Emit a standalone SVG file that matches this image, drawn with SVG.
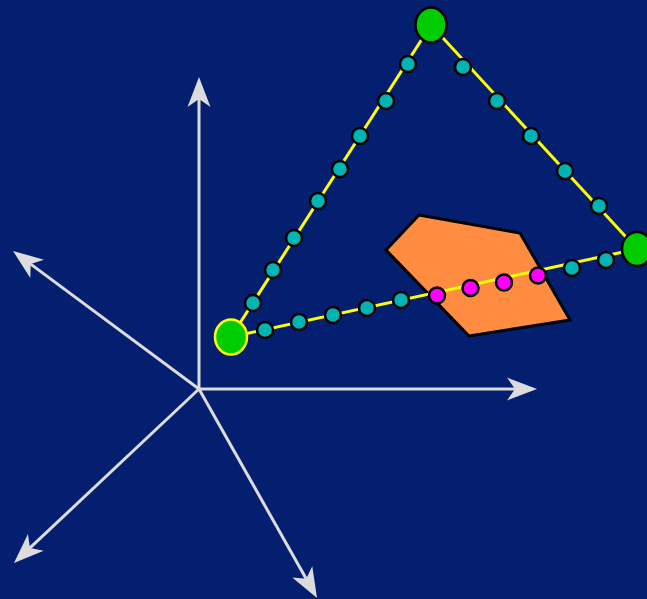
<svg xmlns="http://www.w3.org/2000/svg" width="647" height="599" viewBox="0 0 647 599">
<style>
.axis{stroke:#dcdcdc;stroke-width:3;fill:none;marker-end:url(#ah)}
.edge{stroke:#ffff00;stroke-width:3;fill:none}
.dot{fill:#00b4b4;stroke:#000;stroke-width:2.5}
.mag{fill:#ff00ff;stroke:#000;stroke-width:2.5}
.vtx{fill:#00cc00;stroke:#000;stroke-width:2.5}
</style>
<defs>
<marker id="ah" markerUnits="userSpaceOnUse" viewBox="-10 -13 34 26" refX="0" refY="0" markerWidth="34" markerHeight="26" orient="auto">
<path d="M22 0 L-8 -11.5 L0 0 L-8 11.5 Z" fill="#dcdcdc"/>
</marker>
</defs>
<rect width="647" height="599" fill="#041f6f"/>
<g id="axes">
<line class="axis" x1="199" y1="389" x2="199" y2="99"/>
<line class="axis" x1="199" y1="389" x2="515" y2="389"/>
<line class="axis" x1="199" y1="389" x2="30.7" y2="264.1"/>
<line class="axis" x1="199" y1="389" x2="30" y2="547.9"/>
<line class="axis" x1="199" y1="389" x2="306.2" y2="578.8"/>
</g>
<g id="polygon">
<polygon points="419,215 520,233 570,320 469,336 386,250" fill="#ff8c40" stroke="#000" stroke-width="3" stroke-linejoin="miter"/>
</g>
<g id="connectors">
<line class="edge" x1="231" y1="337" x2="431" y2="25"/>
<line class="edge" x1="431" y1="25" x2="637" y2="249"/>
<line class="edge" x1="231" y1="337" x2="637" y2="249"/>
</g>
<g id="dots">
<circle class="dot" cx="253" cy="303" r="8"/>
<circle class="dot" cx="273" cy="270" r="8"/>
<circle class="dot" cx="294" cy="238" r="8"/>
<circle class="dot" cx="318" cy="201" r="8"/>
<circle class="dot" cx="340" cy="169" r="8"/>
<circle class="dot" cx="360" cy="136" r="8"/>
<circle class="dot" cx="386" cy="101" r="8"/>
<circle class="dot" cx="408" cy="64" r="8"/>
<circle class="dot" cx="463" cy="67" r="8"/>
<circle class="dot" cx="497" cy="101" r="8"/>
<circle class="dot" cx="531" cy="136" r="8"/>
<circle class="dot" cx="565" cy="171" r="8"/>
<circle class="dot" cx="599" cy="206" r="8"/>
<circle class="dot" cx="265" cy="330" r="8"/>
<circle class="dot" cx="299" cy="322" r="8"/>
<circle class="dot" cx="333" cy="315" r="8"/>
<circle class="dot" cx="367" cy="308" r="8"/>
<circle class="dot" cx="401" cy="300" r="8"/>
<circle class="mag" cx="437" cy="295.5" r="8"/>
<circle class="mag" cx="470.5" cy="288" r="8"/>
<circle class="mag" cx="504" cy="282.5" r="8"/>
<circle class="mag" cx="538" cy="275.5" r="8"/>
<circle class="dot" cx="572" cy="268" r="8"/>
<circle class="dot" cx="606" cy="260" r="8"/>
</g>
<g id="vertex-left">
<ellipse cx="231" cy="337" rx="16" ry="17.5" fill="#00cc00" stroke="#ffff00" stroke-width="2.5"/>
</g>
<g id="vertex-top">
<ellipse class="vtx" cx="431" cy="25" rx="15.5" ry="17.5"/>
</g>
<g id="vertex-right">
<ellipse class="vtx" cx="637" cy="249" rx="15" ry="17"/>
</g>
</svg>
